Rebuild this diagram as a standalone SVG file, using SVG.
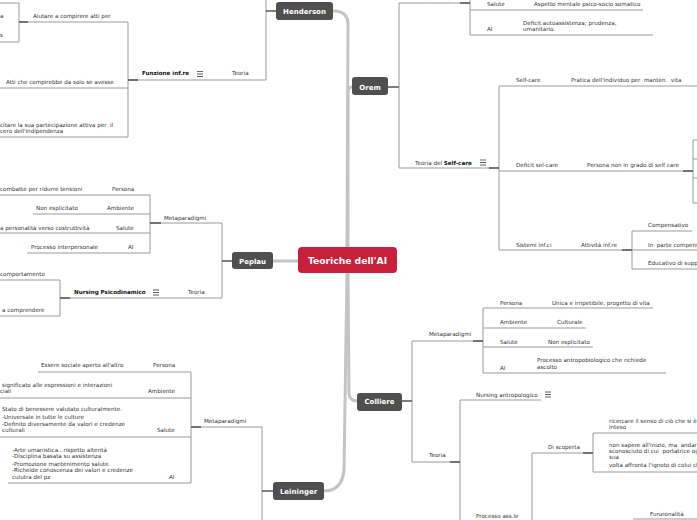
<svg xmlns="http://www.w3.org/2000/svg" width="697" height="520" viewBox="0 0 697 520">
<style>
.t{font-family:"DejaVu Sans",Verdana,sans-serif;font-size:5.6px;fill:#333;white-space:pre}
.b{font-weight:bold;fill:#111}
.n rect{fill:#4f4f4f}
.n text{font-family:"DejaVu Sans",Verdana,sans-serif;font-size:7px;font-weight:bold;fill:#fff;text-anchor:middle}
.l{stroke:#9a9a9a;stroke-width:1;fill:none}
.d{stroke:#555;stroke-width:1.6;fill:none}
.m{stroke:#c4c4c4;stroke-width:3;fill:none;stroke-linecap:round}
.i{stroke:#333;stroke-width:0.8}
</style>
<rect width="697" height="520" fill="#fff"/>
<g id="connectors">
<path class="m" d="M333 11 Q348 11 348 24 L347 248"/>
<path class="m" d="M348 248 L348 93 Q348 87 352 87"/>
<path class="m" d="M273 261 H299"/>
<path class="m" d="M348 273 L349 394 Q350 401 357 401"/>
<path class="m" d="M347 273 L344 470 Q342 491 324 491"/>
<g class="l">
<path d="M266 0 V80 M128 80 H266 M128 22 V137 M19 22 H128 M0 88 H128 M0 137 H128 M19 3 V42 M0 3 H19 M0 42 H19"/>
<path d="M222 223 V298 M150 223 H222 M150 195 V253 M0 195 H150 M33 214 H150 M0 233 H150 M27 253 H150 M60 298 H222 M60 280 V316 M0 280 H60 M0 316 H60"/>
<path d="M399 3 V168 M399 3 H470 M470 0 V35 M470 10 H643 M470 35 H653 M399 168 H499 M499 86 V250 M499 86 H697 M499 171 H693 M499 250 H632 M693 140 V203 M693 140 H697 M693 159 H697 M693 178 H697 M693 203 H697 M632 231 V269 M632 231 H692 M632 250 H697 M632 269 H697"/>
<path d="M412 341 V462 M412 341 H483 M483 308 V373 M483 308 H653 M483 328 H586 M483 347 H593 M483 373 H666 M412 462 H460 M460 400 V520 M460 400 H541 M532 453 V520 M532 453 H593 M593 433 V472 M593 433 H697 M593 472 H697 M633 519 H697"/>
<path d="M262 427 V520 M191 427 H262 M191 372 V483 M38 372 H191 M0 398 H191 M0 437 H191 M8 483 H191"/>
</g>
<g class="d">
<path d="M266 11 H276 M128 80 H138 M19 22 H28"/>
<path d="M222 261 H232 M150 223 H161 M60 298 H70"/>
<path d="M388 87 H399 M460 3 H470 M489 168 H499 M683 171 H693 M622 250 H632"/>
<path d="M402 401 H412 M473 341 H483 M450 462 H460 M583 453 H593"/>
<path d="M262 491 H273 M191 427 H201"/>
</g>
</g>
<g id="center" class="n">
<rect x="298" y="247" width="99" height="26" rx="4" fill="#c8203a" style="fill:#c8203a"/>
<text x="347.5" y="263.5" style="font-size:9.2px">Teoriche dell'AI</text>
</g>
<g id="henderson">
<g class="n"><rect x="276" y="2" width="57" height="18" rx="3"/><text x="304.5" y="13.5">Henderson</text></g>
<text class="t" x="232" y="75">Teoria</text>
<text class="t b" x="142" y="75">Funzione inf.re</text>
<path class="i" d="M197 71.5 H203 M197 74 H203 M197 76.5 H203"/>
<text class="t" x="33" y="18">Aiutare a compirere atti per</text>
<text class="t" x="0" y="18">a</text>
<text class="t" x="0" y="37">s</text>
<text class="t" x="6" y="84">Atti che compirebbe da solo se avesse</text>
<text class="t" x="0" y="127">citare la sua partecipazione attiva per  il</text>
<text class="t" x="0" y="133">cero dell'indipendenza</text>
</g>
<g id="peplau">
<g class="n"><rect x="232" y="252" width="41" height="17" rx="3"/><text x="252.5" y="263.5">Peplau</text></g>
<text class="t" x="164" y="220">Metaparadigmi</text>
<text class="t" x="0" y="191">combatte per ridurre tensioni</text>
<text class="t" x="112" y="191">Persona</text>
<text class="t" x="36" y="210">Non esplicitato</text>
<text class="t" x="107" y="210">Ambiente</text>
<text class="t" x="0" y="230">a personalità verso costruttività</text>
<text class="t" x="116" y="230">Salute</text>
<text class="t" x="31" y="249">Processo interpersonale</text>
<text class="t" x="128" y="249">AI</text>
<text class="t b" x="74" y="294">Nursing Psicodinamico</text>
<path class="i" d="M153 290 H159 M153 292.5 H159 M153 295 H159"/>
<text class="t" x="188" y="294">Teoria</text>
<text class="t" x="0" y="276">comportamento</text>
<text class="t" x="2" y="312">a comprendere</text>
</g>
<g id="orem">
<g class="n"><rect x="352" y="77" width="36" height="18" rx="3"/><text x="370" y="89.5">Orem</text></g>
<text class="t" x="415" y="-1">Metaparadigmi</text>
<text class="t" x="487" y="6">Salute</text>
<text class="t" x="534" y="6">Aspetto mentale psico-socio somatico</text>
<text class="t" x="487" y="31">AI</text>
<text class="t" x="523" y="25">Deficit autoassistenza; prudenza,</text>
<text class="t" x="523" y="31">umanitario.</text>
<text class="t" x="415" y="165">Teoria del <tspan class="b">Self-care</tspan></text>
<path class="i" d="M480 160 H486 M480 162.5 H486 M480 165 H486"/>
<text class="t" x="516" y="82">Self-care</text>
<text class="t" x="571" y="82">Pratica dell'individuo per  manten.  vita</text>
<text class="t" x="516" y="167">Deficit sel-care</text>
<text class="t" x="587" y="167">Persona non in grado di self care</text>
<text class="t" x="516" y="247">Sistemi inf.ci</text>
<text class="t" x="581" y="247">Attività inf.re</text>
<text class="t" x="648" y="227">Compensativo</text>
<text class="t" x="648" y="247">In  parte compensa</text>
<text class="t" x="648" y="265">Educativo di supp</text>
</g>
<g id="colliere">
<g class="n"><rect x="357" y="393" width="45" height="18" rx="3"/><text x="379.5" y="404">Colliere</text></g>
<text class="t" x="429" y="336">Metaparadigmi</text>
<text class="t" x="500" y="305">Persona</text>
<text class="t" x="552" y="305">Unica e irripetibile, progetto di vita</text>
<text class="t" x="500" y="324">Ambiente</text>
<text class="t" x="557" y="324">Culturale</text>
<text class="t" x="500" y="344">Salute</text>
<text class="t" x="548" y="344">Non esplicitato</text>
<text class="t" x="500" y="370">AI</text>
<text class="t" x="537" y="362">Processo antropobiologico che richiede</text>
<text class="t" x="537" y="369">ascolto</text>
<text class="t" x="429" y="457">Teoria</text>
<text class="t" x="476" y="397">Nursing antropologico</text>
<path class="i" d="M545 392 H551 M545 394.5 H551 M545 397 H551"/>
<text class="t" x="548" y="449">Di scoperta</text>
<text class="t" x="609" y="423">ricercare il senso di ciò che si è</text>
<text class="t" x="609" y="429">inteso</text>
<text class="t" x="609" y="447">non sapere all'inizio, ma  andar</text>
<text class="t" x="609" y="453">sconosciuto di cui  portatrice og</text>
<text class="t" x="609" y="459">sua</text>
<text class="t" x="609" y="467">volta affronta l'ignoto di colui ch</text>
<text class="t" x="476" y="518">Processo ass.le</text>
<text class="t" x="650" y="516">Funzionalità</text>
</g>
<g id="leininger">
<g class="n"><rect x="273" y="482" width="51" height="18" rx="3"/><text x="298.5" y="494">Leininger</text></g>
<text class="t" x="204" y="423">Metaparadigmi</text>
<text class="t" x="41" y="367">Essere sociale aperto all'altro</text>
<text class="t" x="153" y="367">Persona</text>
<text class="t" x="2" y="387">significato alle espressioni e interazioni</text>
<text class="t" x="0" y="393">ciali</text>
<text class="t" x="148" y="393">Ambiente</text>
<text class="t" x="2" y="411">Stato di benessere valutato culturalmente.</text>
<text class="t" x="2" y="419">-Universale in tutte le culture</text>
<text class="t" x="2" y="426">-Definito diversamente da valori e credenze</text>
<text class="t" x="2" y="432">culturali</text>
<text class="t" x="157" y="432">Salute</text>
<text class="t" x="12" y="452">-Arte umanistica...rispetto alterità</text>
<text class="t" x="12" y="458">-Disciplina basata su assistenza</text>
<text class="t" x="12" y="466">-Promozione mantenimento salute.</text>
<text class="t" x="12" y="472">-Richeide conoscenza dei valori e credenze</text>
<text class="t" x="12" y="479">culutra del pz</text>
<text class="t" x="169" y="479">AI</text>
</g>
</svg>
